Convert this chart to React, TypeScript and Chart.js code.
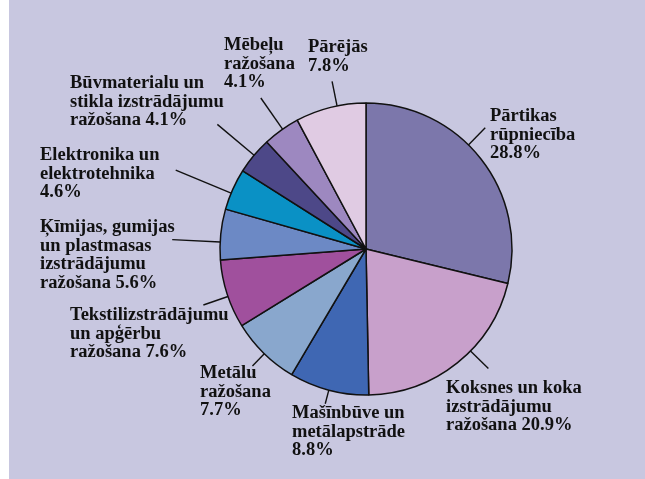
import React, { useEffect, useRef } from "react";
import { Chart, registerables } from "chart.js";

Chart.register(...registerables);

const categories = [
  "Pārtikas rūpniecība",
  "Koksnes un koka izstrādājumu ražošana",
  "Mašīnbūve un metālapstrāde",
  "Metālu ražošana",
  "Tekstilizstrādājumu un apģērbu ražošana",
  "Ķīmijas, gumijas un plastmasas izstrādājumu ražošana",
  "Elektronika un elektrotehnika",
  "Būvmaterialu un stikla izstrādājumu ražošana",
  "Mēbeļu ražošana",
  "Pārējās",
];

const values = [28.8, 20.9, 8.8, 7.7, 7.6, 5.6, 4.6, 4.1, 4.1, 7.8];

const colors = [
  "#7c77ab",
  "#c8a0cb",
  "#3f67b3",
  "#89a7cd",
  "#a0509d",
  "#6c89c5",
  "#0a91c5",
  "#4d4888",
  "#9d88c0",
  "#e0cbe3",
];

// label text lines; "{v}" is replaced by the slice value
const labelLines = [
  ["Pārtikas", "rūpniecība", "{v}%"],
  ["Koksnes un koka", "izstrādājumu", "ražošana {v}%"],
  ["Mašīnbūve un", "metālapstrāde", "{v}%"],
  ["Metālu", "ražošana", "{v}%"],
  ["Tekstilizstrādājumu", "un apģērbu", "ražošana {v}%"],
  ["Ķīmijas, gumijas", "un plastmasas", "izstrādājumu", "ražošana {v}%"],
  ["Elektronika un", "elektrotehnika", "{v}%"],
  ["Būvmaterialu un", "stikla izstrādājumu", "ražošana {v}%"],
  ["Mēbeļu", "ražošana", "{v}%"],
  ["Pārējās", "{v}%"],
];

// layout: label text anchor (canvas px), leader angle offset from slice middle (deg), leader length (px)
const labelLayout = [
  { x: 481, y: 116, da: -7.3, len: 24 },
  { x: 437, y: 388, da: -7.0, len: 25 },
  { x: 283, y: 413, da: 0, len: 14 },
  { x: 191, y: 373, da: -0.3, len: 17 },
  { x: 61, y: 315, da: -1, len: 26 },
  { x: 31, y: 227, da: -3, len: 48 },
  { x: 31, y: 155, da: -1.6, len: 60 },
  { x: 61, y: 83, da: 0.2, len: 48 },
  { x: 215, y: 45, da: 0.6, len: 38 },
  { x: 299, y: 47, da: 2.6, len: 25 },
];

const LINE_H = 18.8;
const FONT = "bold 18.5px 'Liberation Serif', serif";

const labelPlugin = {
  id: "pieLabels",
  afterDatasetsDraw(chart: any) {
    const ctx = chart.ctx;
    const meta = chart.getDatasetMeta(0);
    ctx.save();
    meta.data.forEach((arc: any, i: number) => {
      const { x, y, startAngle, endAngle, outerRadius } = arc.getProps(
        ["x", "y", "startAngle", "endAngle", "outerRadius"],
        true
      );
      const lay = labelLayout[i];
      const mid = (startAngle + endAngle) / 2 + (lay.da * Math.PI) / 180;
      const r1 = outerRadius;
      const r2 = outerRadius + lay.len;
      ctx.beginPath();
      ctx.strokeStyle = "#111";
      ctx.lineWidth = 1.4;
      ctx.moveTo(x + Math.cos(mid) * r1, y + Math.sin(mid) * r1);
      ctx.lineTo(x + Math.cos(mid) * r2, y + Math.sin(mid) * r2);
      ctx.stroke();

      ctx.fillStyle = "#111";
      ctx.font = FONT;
      ctx.textAlign = "left";
      ctx.textBaseline = "middle";
      labelLines[i].forEach((line, j) => {
        const t = line.replace("{v}", values[i].toFixed(1));
        ctx.fillText(t, lay.x, lay.y + j * LINE_H);
      });
    });
    ctx.restore();
  },
};

export default function App() {
  const canvasRef = useRef<HTMLCanvasElement | null>(null);

  useEffect(() => {
    document.body.style.margin = "0";
    document.documentElement.style.background = "#c8c7e0";
    document.body.style.background = "#c8c7e0";
    let chart: Chart | null = null;
    let cancelled = false;
    const make = () => {
      if (cancelled || !canvasRef.current) return;
      chart = new Chart(canvasRef.current, {
        type: "pie",
        data: {
          labels: categories,
          datasets: [
            {
              data: values,
              backgroundColor: colors,
              borderColor: "#111",
              borderWidth: 1.5,
            },
          ],
        },
        options: {
          animation: false,
          responsive: false,
          radius: 146,
          layout: { padding: { left: 211, right: 133, top: 103, bottom: 84 } },
          plugins: {
            legend: { display: false },
            tooltip: { enabled: false },
          },
        } as any,
        plugins: [labelPlugin],
      });
    };
    const fonts: any = (document as any).fonts;
    if (fonts && fonts.load) {
      fonts.load(FONT, "Pārtikas").then(make, make);
    } else {
      make();
    }
    return () => {
      cancelled = true;
      if (chart) chart.destroy();
    };
  }, []);

  return (
    <div
      style={{
        width: 645,
        height: 479,
        display: "flex",
        background: "#c8c7e0",
      }}
    >
      <div style={{ width: 9, height: 479, background: "#ffffff", flex: "none" }} />
      <canvas ref={canvasRef} width={636} height={479} style={{ display: "block" }} />
    </div>
  );
}
